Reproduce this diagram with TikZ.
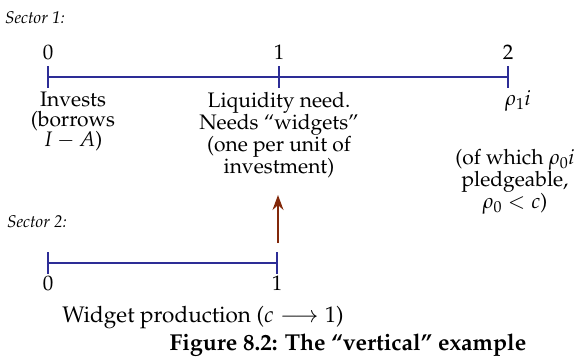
\documentclass[tikz,border=0pt]{standalone}
\usepackage[T1]{fontenc}
\usepackage{mathpazo}
\usetikzlibrary{arrows.meta}
\definecolor{tlblue}{RGB}{45,45,150}
\definecolor{arbrown}{RGB}{130,40,10}
\tikzset{
  tline/.style={draw=tlblue, line width=1.2pt},
  sect/.style={font=\fontsize{17}{18}\selectfont\itshape, inner sep=0pt},
  num/.style={inner sep=0pt},
  txt/.style={align=center, inner sep=0pt, anchor=north},
  uparrow/.style={draw=arbrown, fill=arbrown, line width=1.4pt, -{Stealth[length=15pt,width=11pt]}},
}
\begin{document}
\begin{tikzpicture}[x=1pt,y=-1pt,font=\fontsize{21}{20}\selectfont]
\useasboundingbox (0,0) rectangle (582,362);
% Sector 1
\node[sect] (s1) at (35,18) {Sector 1:};
\coordinate (a0) at (48,77);
\coordinate (a1) at (279,77);
\coordinate (a2) at (508,77);
\draw[tline] (a0) -- (a2);
\foreach \p in {a0,a1,a2} \draw[tline] ([yshift=11pt]\p) -- ([yshift=-11pt]\p);
\node[num] (n0) at (48,52) {0};
\node[num] (n1) at (279,52) {1};
\node[num] (n2) at (508,52) {2};
\node[txt] (inv) at (73,92) {Invests\\(borrows\\$I-A$)};
\node[txt] (liq) at (279,92) {Liquidity need.\\Needs ``widgets''\\(one per unit of\\investment)};
\node[num] (rho) at (518,101) {$\rho_1 i$};
\node[txt] (pl) at (515,149) {(of which $\rho_0 i$\\pledgeable,\\$\rho_0<c$)};
% arrow
\coordinate (arB) at (278,243);
\coordinate (arT) at (278,195);
\draw[uparrow] (arB) -- (arT);
% Sector 2
\node[sect] (s2) at (37,222) {Sector 2:};
\coordinate (b0) at (48,263);
\coordinate (b1) at (277,263);
\draw[tline] (b0) -- (b1);
\foreach \p in {b0,b1} \draw[tline] ([yshift=11pt]\p) -- ([yshift=-11pt]\p);
\node[num] (m0) at (48,283) {0};
\node[num] (m1) at (277,283) {1};
\node[num, font=\fontsize{22.5}{20}\selectfont] (wp) at (203,318) {Widget production ($c\longrightarrow 1$)};
\node[num, font=\fontsize{23}{20}\selectfont\bfseries] (cap) at (348,345) {Figure 8.2: The ``vertical'' example};
\end{tikzpicture}
\end{document}
